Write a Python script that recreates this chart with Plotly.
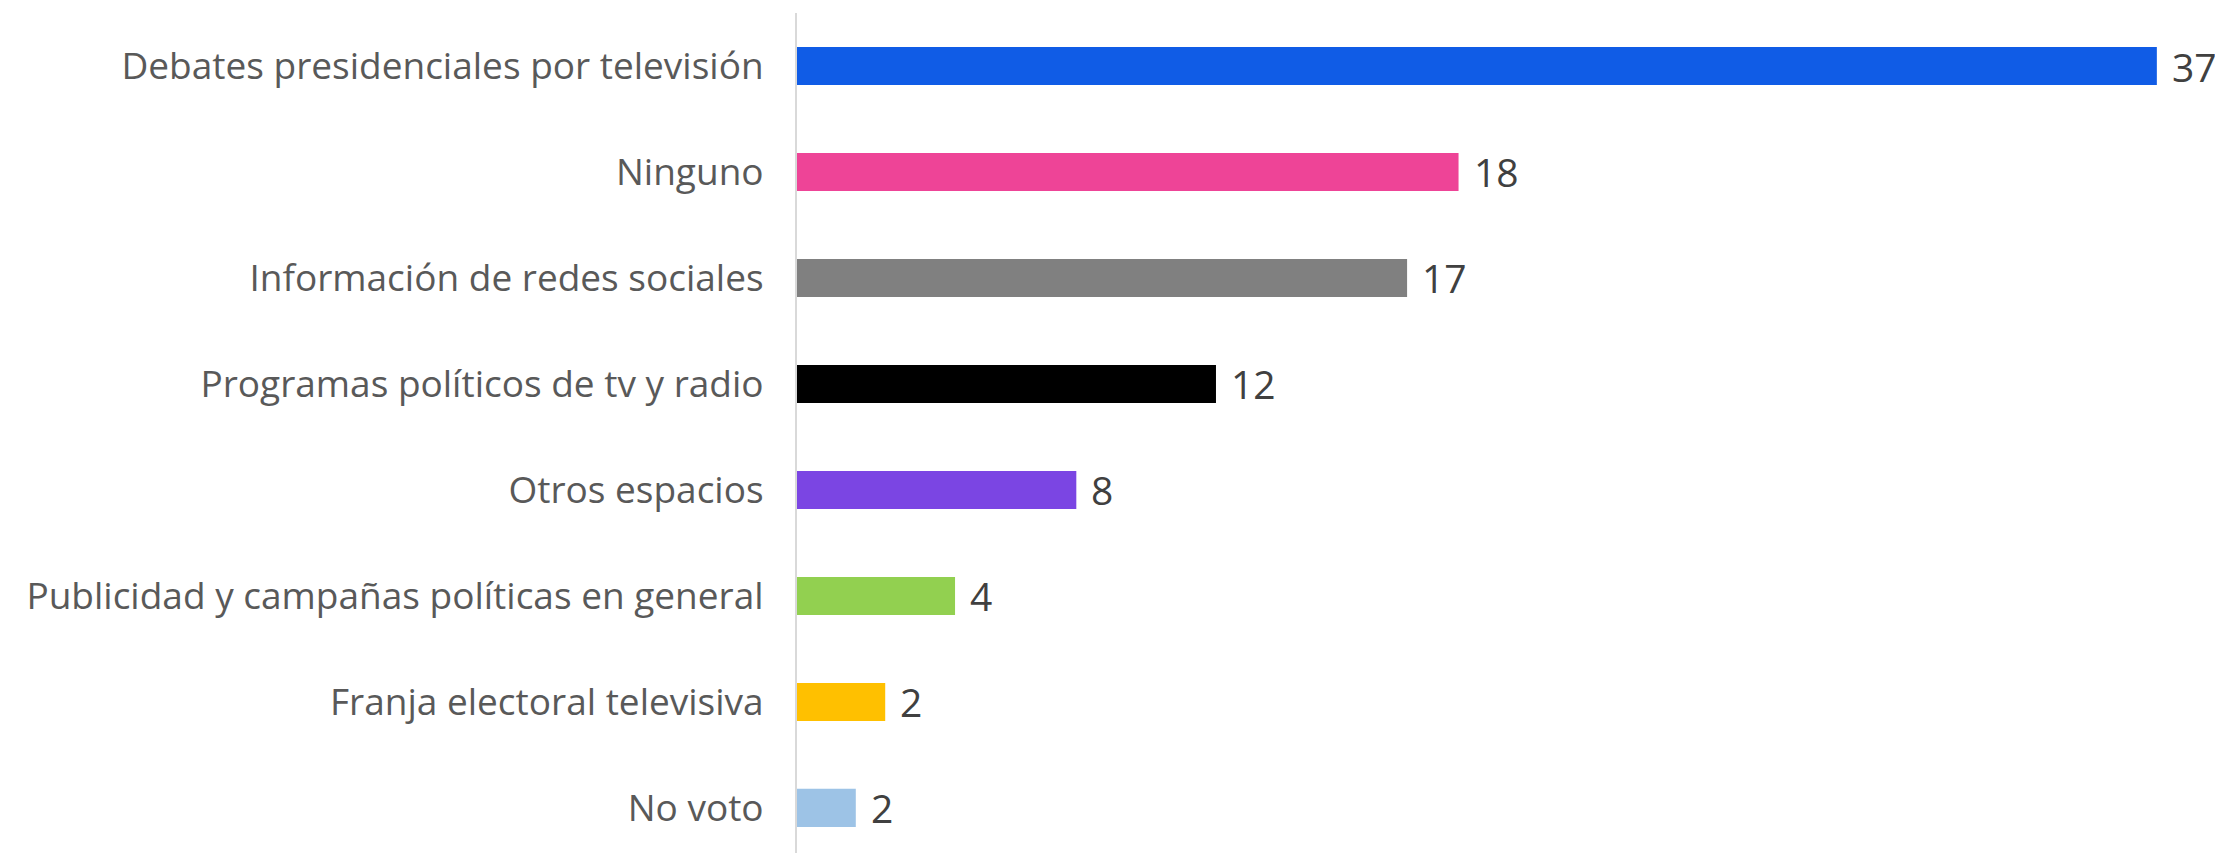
import plotly.graph_objects as go

categories = [
    "Debates presidenciales por televisión",
    "Ninguno",
    "Información de redes sociales",
    "Programas políticos de tv y radio",
    "Otros espacios",
    "Publicidad y campañas políticas en general",
    "Franja electoral televisiva",
    "No voto",
]
values = [37, 18, 16.6, 11.4, 7.6, 4.3, 2.4, 1.6]
value_labels = ["37", "18", "17", "12", "8", "4", "2", "2"]
colors = ["#105CE6", "#EE4497", "#808080", "#000000", "#7B45E3", "#92D050", "#FFC000", "#9DC3E6"]

FONT = "Open Sans"

fig = go.Figure(
    go.Bar(
        x=values,
        y=categories,
        orientation="h",
        marker=dict(color=colors, line=dict(width=0)),
        width=0.36,
        hoverinfo="skip",
    )
)

for c, v, t in zip(categories, values, value_labels):
    fig.add_annotation(
        x=v, y=c, text=t, showarrow=False,
        xanchor="left", yanchor="middle", xshift=13,
        font=dict(family=FONT, size=39, color="#404040"),
    )

fig.update_layout(
    width=2215, height=845, autosize=False,
    margin=dict(l=789, r=0, t=5, b=0),
    paper_bgcolor="white", plot_bgcolor="white",
    showlegend=False,
    xaxis=dict(range=[0, 38.8], visible=False, showgrid=False, zeroline=False),
    yaxis=dict(
        categoryorder="array", categoryarray=categories,
        range=[7.425, -0.5],
        showline=True, linecolor="#D9D9D9", linewidth=2,
        showgrid=False, zeroline=False, ticks="",
        ticklabelstandoff=24,
        tickfont=dict(family=FONT, size=37, color="#595959"),
    ),
)

fig.write_html("out.html")
